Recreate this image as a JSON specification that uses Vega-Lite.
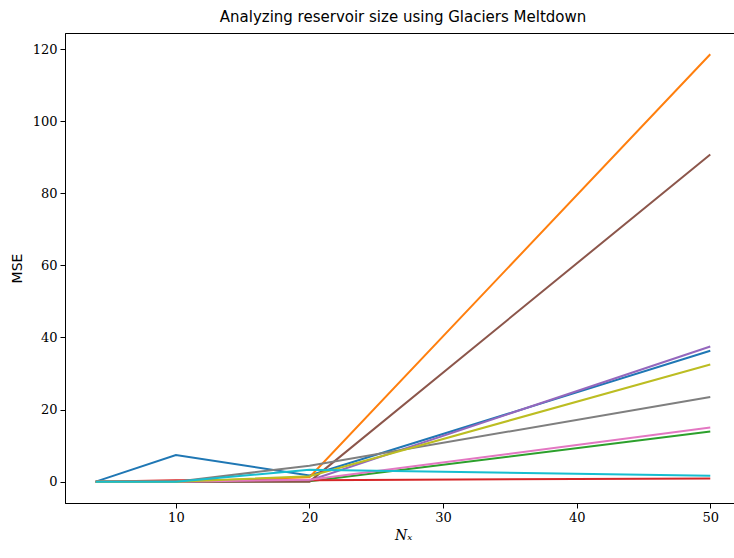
{
  "$schema": "https://vega.github.io/schema/vega-lite/v6.json",
  "width": 676,
  "height": 470,
  "autosize": {"type": "none"},
  "padding": {"left": 65, "top": 33, "right": 0, "bottom": 55},
  "background": "white",
  "title": {"text": "Analyzing reservoir size using Glaciers Meltdown", "font": "DejaVu Sans", "fontSize": 15, "fontWeight": "normal", "color": "black", "offset": 8, "anchor": "middle", "frame": "group"},
  "config": {
    "view": {"stroke": "black", "strokeWidth": 1},
    "axis": {"grid": false, "domainColor": "black", "tickColor": "black", "labelColor": "black", "titleColor": "black", "labelFont": "DejaVu Serif", "labelFontSize": 13, "tickSize": 5, "labelPadding": 3}
  },
  "data": {"values": [
    {"s": "s0", "x": 4, "y": 0}, {"s": "s0", "x": 10, "y": 7.4}, {"s": "s0", "x": 20, "y": 1.7}, {"s": "s0", "x": 50, "y": 36.3},
    {"s": "s1", "x": 4, "y": 0}, {"s": "s1", "x": 10, "y": 0}, {"s": "s1", "x": 20, "y": 1.2}, {"s": "s1", "x": 50, "y": 118.6},
    {"s": "s2", "x": 4, "y": 0}, {"s": "s2", "x": 10, "y": 0}, {"s": "s2", "x": 20, "y": 0.1}, {"s": "s2", "x": 50, "y": 13.9},
    {"s": "s3", "x": 4, "y": 0}, {"s": "s3", "x": 10, "y": 0.4}, {"s": "s3", "x": 20, "y": 0.4}, {"s": "s3", "x": 50, "y": 0.9},
    {"s": "s4", "x": 4, "y": 0}, {"s": "s4", "x": 10, "y": 0}, {"s": "s4", "x": 20, "y": 0.3}, {"s": "s4", "x": 50, "y": 37.5},
    {"s": "s5", "x": 4, "y": 0}, {"s": "s5", "x": 10, "y": 0}, {"s": "s5", "x": 20, "y": 0}, {"s": "s5", "x": 50, "y": 90.8},
    {"s": "s6", "x": 4, "y": 0}, {"s": "s6", "x": 10, "y": 0}, {"s": "s6", "x": 20, "y": 0.5}, {"s": "s6", "x": 50, "y": 15.0},
    {"s": "s7", "x": 4, "y": 0}, {"s": "s7", "x": 10, "y": 0}, {"s": "s7", "x": 20, "y": 4.4}, {"s": "s7", "x": 50, "y": 23.5},
    {"s": "s8", "x": 4, "y": 0}, {"s": "s8", "x": 10, "y": 0}, {"s": "s8", "x": 20, "y": 1.5}, {"s": "s8", "x": 50, "y": 32.5},
    {"s": "s9", "x": 4, "y": 0}, {"s": "s9", "x": 10, "y": 0}, {"s": "s9", "x": 20, "y": 3.3}, {"s": "s9", "x": 50, "y": 1.6}
  ]},
  "mark": {"type": "line", "strokeWidth": 2, "clip": true},
  "encoding": {
    "x": {"field": "x", "type": "quantitative", "scale": {"domain": [1.7, 52.3], "nice": false, "zero": false},
      "axis": {"values": [10, 20, 30, 40, 50], "title": "Nₓ", "titleFont": "DejaVu Serif", "titleFontStyle": "italic", "titleFontWeight": "normal", "titleFontSize": 14, "titlePadding": 4}},
    "y": {"field": "y", "type": "quantitative", "scale": {"domain": [-5.93, 124.5], "nice": false, "zero": false},
      "axis": {"values": [0, 20, 40, 60, 80, 100, 120], "title": "MSE", "titleFont": "DejaVu Sans", "titleFontWeight": "normal", "titleFontSize": 14, "titlePadding": 8}},
    "color": {"field": "s", "type": "nominal", "legend": null,
      "scale": {"domain": ["s0","s1","s2","s3","s4","s5","s6","s7","s8","s9"],
        "range": ["#1f77b4","#ff7f0e","#2ca02c","#d62728","#9467bd","#8c564b","#e377c2","#7f7f7f","#bcbd22","#17becf"]}},
    "order": {"field": "x", "type": "quantitative"}
  }
}
